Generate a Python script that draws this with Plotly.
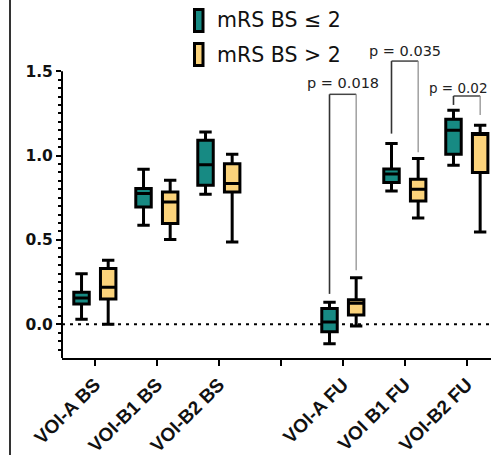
import plotly.graph_objects as go

# ---------------- data ----------------
categories = ["VOI-A BS", "VOI-B1 BS", "VOI-B2 BS", "VOI-A FU", "VOI B1 FU", "VOI-B2 FU"]
cat_pos = [0, 1, 2, 4, 5, 6]
tick_pos = [0, 1, 2, 3, 4, 5, 6]
tick_text = ["VOI-A BS", "VOI-B1 BS", "VOI-B2 BS", "", "VOI-A FU", "VOI B1 FU", "VOI-B2 FU"]

low_lf  = [0.03, 0.587, 0.77, -0.115, 0.79, 0.943]
low_q1  = [0.12, 0.695, 0.824, -0.045, 0.84, 1.008]
low_med = [0.155, 0.775, 0.945, 0.014, 0.89, 1.15]
low_q3  = [0.19, 0.804, 1.09, 0.093, 0.92, 1.215]
low_uf  = [0.30, 0.919, 1.14, 0.13, 1.071, 1.268]

high_lf  = [0.0, 0.502, 0.488, -0.01, 0.63, 0.547]
high_q1  = [0.15, 0.597, 0.784, 0.055, 0.73, 0.90]
high_med = [0.22, 0.725, 0.834, 0.125, 0.80, 1.125]
high_q3  = [0.33, 0.784, 0.952, 0.145, 0.86, 1.13]
high_uf  = [0.38, 0.854, 1.008, 0.275, 0.982, 1.18]

series_names = ["mRS BS \u2264 2", "mRS BS > 2"]
colors = ["#178a83", "#fbd37b"]

# significance brackets (FU categories)
br_cat = [4, 5, 6]
br_top = [1.363, 1.56, 1.353]
br_left_bottom = [0.18, 1.13, 1.30]
br_right_bottom = [0.32, 1.02, 1.24]
br_text = ["p = 0.018", "p = 0.035", "p = 0.02"]
br_text_y = [1.43, 1.62, 1.40]

y_range = [-0.2, 1.922]
x_range = [-0.53, 6.39]

FONT = "DejaVu Sans"
FONT_X = "Liberation Sans"

fig = go.Figure()
for name, col, lf, q1, med, q3, uf in [
    (series_names[0], colors[0], low_lf, low_q1, low_med, low_q3, low_uf),
    (series_names[1], colors[1], high_lf, high_q1, high_med, high_q3, high_uf),
]:
    fig.add_trace(go.Box(
        name=name, x=cat_pos, lowerfence=lf, q1=q1, median=med, q3=q3, upperfence=uf,
        fillcolor=col, line=dict(color="black", width=3), whiskerwidth=0.8,
        boxpoints=False, showlegend=False,
    ))

gf = 0.86  # 1 - boxgap
offset = 0.25 * gf

shapes = []
annotations = []
# bracket shapes
for c, top, lb, rb, txt, ty in zip(br_cat, br_top, br_left_bottom, br_right_bottom, br_text, br_text_y):
    xl = c - offset
    xr = c + offset
    shapes.append(dict(type="line", xref="x", yref="y", x0=xl, x1=xr, y0=top, y1=top,
                       line=dict(color="#444", width=1.5)))
    shapes.append(dict(type="line", xref="x", yref="y", x0=xl, x1=xl, y0=lb, y1=top,
                       line=dict(color="#333", width=1.6)))
    shapes.append(dict(type="line", xref="x", yref="y", x0=xr, x1=xr, y0=rb, y1=top,
                       line=dict(color="#888", width=1.2)))
    if txt.endswith("0.02"):
        annotations.append(dict(x=xl - 0.43, y=ty, xref="x", yref="y", text=txt, showarrow=False,
                                xanchor="left", font=dict(family=FONT, size=13.5, color="#222")))
    else:
        annotations.append(dict(x=c, y=ty, xref="x", yref="y", text=txt, showarrow=False,
                                xanchor="center", font=dict(family=FONT, size=14.5, color="#222")))

# dotted zero line
shapes.append(dict(type="line", xref="paper", yref="y", x0=0, x1=1, y0=0, y1=0,
                   line=dict(color="black", width=2, dash="3px,5px"), layer="below"))

# y axis line from bottom up to 1.5
span = y_range[1] - y_range[0]
shapes.append(dict(type="line", xref="paper", yref="paper", x0=0, x1=0, y0=0,
                   y1=(1.5 - y_range[0]) / span, line=dict(color="black", width=2)))

# left border line of the panel
W, H, ML, MB = 491, 455, 62, 97
PW = W - ML
PH = H - MB
def px_x(px):
    return (px - ML) / PW
def px_y(py):
    return (PH - py) / PH

shapes.append(dict(type="line", xref="paper", yref="paper", x0=px_x(10), x1=px_x(10),
                   y0=px_y(H + 2), y1=px_y(-2), line=dict(color="#333", width=2)))

# custom legend
leg_y = [20.5, 54.5]
for i, (name, col) in enumerate(zip(series_names, colors)):
    cy = leg_y[i]
    shapes.append(dict(type="rect", xref="paper", yref="paper",
                       x0=px_x(194.5), x1=px_x(203), y0=px_y(cy + 11), y1=px_y(cy - 11),
                       fillcolor=col, line=dict(color="black", width=3)))
    annotations.append(dict(x=px_x(215), y=px_y(cy), xref="paper", yref="paper", text=name,
                            showarrow=False, xanchor="left", yanchor="middle",
                            font=dict(family=FONT, size=20.5, color="#111")))

minor_vals = [round(-0.15 + 0.05 * i, 2) for i in range(33)]
minor_vals = [v for v in minor_vals if abs(v / 0.5 - round(v / 0.5)) > 1e-6]

fig.update_layout(
    width=W, height=H, autosize=False,
    margin=dict(l=ML, r=0, t=0, b=MB, pad=0),
    paper_bgcolor="white", plot_bgcolor="white",
    boxmode="group", boxgap=1 - gf, boxgroupgap=0.42,
    shapes=shapes, annotations=annotations,
    xaxis=dict(range=x_range, tickmode="array", tickvals=tick_pos, ticktext=tick_text,
               tickangle=-45, showgrid=False, zeroline=False, showline=True, automargin=False,
               linecolor="black", linewidth=2, ticks="outside", ticklen=6, tickwidth=2,
               tickcolor="black",
               tickfont=dict(family=FONT_X, size=19, color="#111", weight="bold")),
    yaxis=dict(range=y_range, tickmode="array", tickvals=[0, 0.5, 1.0, 1.5],
               ticktext=["0.0", "0.5", "1.0", "1.5"], showgrid=False, zeroline=False,
               showline=False, ticks="outside", ticklen=5, tickwidth=2, tickcolor="black",
               automargin=False,
               tickfont=dict(family=FONT, size=15.5, color="#111", weight="bold"),
               minor=dict(tickmode="array", tickvals=minor_vals, ticks="outside",
                          ticklen=3, tickwidth=1.5, tickcolor="black", showgrid=False)),
    showlegend=False,
)

fig.write_html("out.html")
